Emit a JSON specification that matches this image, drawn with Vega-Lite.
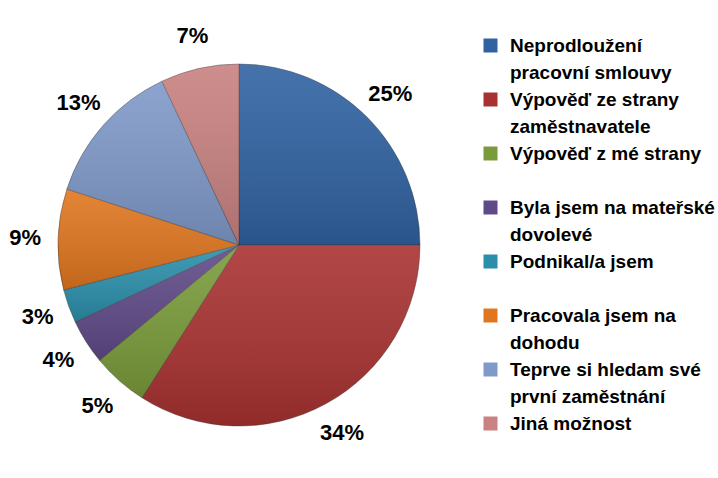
{
  "$schema": "https://vega.github.io/schema/vega-lite/v6.json",
  "width": 462,
  "height": 458,
  "padding": {"left": 8, "top": 16, "right": 0, "bottom": 0},
  "background": "white",
  "config": {
    "view": {"stroke": null},
    "font": "Liberation Sans",
    "style": {"guide-label": {"lineHeight": 27}}
  },
  "data": {
    "values": [
      {"category": "Neprodloužení|pracovní smlouvy", "value": 25, "label": "25%", "order": 1},
      {"category": "Výpověď ze strany|zaměstnavatele", "value": 34, "label": "34%", "order": 2},
      {"category": "Výpověď z mé strany| ", "value": 5, "label": "5%", "order": 3},
      {"category": "Byla jsem na mateřské|dovolevé", "value": 4, "label": "4%", "order": 4},
      {"category": "Podnikal/a jsem| ", "value": 3, "label": "3%", "order": 5},
      {"category": "Pracovala jsem na|dohodu", "value": 9, "label": "9%", "order": 6},
      {"category": "Teprve si hledam své|první zaměstnání", "value": 13, "label": "13%", "order": 7},
      {"category": "Jiná možnost| ", "value": 7, "label": "7%", "order": 8}
    ]
  },
  "encoding": {
    "theta": {"field": "value", "type": "quantitative", "stack": true},
    "order": {"field": "order", "type": "quantitative"}
  },
  "layer": [
    {
      "mark": {"type": "arc", "outerRadius": 181, "stroke": "#333333", "strokeWidth": 0.4},
      "encoding": {
        "color": {
          "field": "category",
          "type": "nominal",
          "sort": null,
          "scale": {
            "domain": [
              "Neprodloužení|pracovní smlouvy",
              "Výpověď ze strany|zaměstnavatele",
              "Výpověď z mé strany| ",
              "Byla jsem na mateřské|dovolevé",
              "Podnikal/a jsem| ",
              "Pracovala jsem na|dohodu",
              "Teprve si hledam své|první zaměstnání",
              "Jiná možnost| "
            ],
            "range": ["#3062a2", "#a83231", "#7a9b3a", "#5f4a88", "#2b8fab", "#e0761f", "#7f99c9", "#c98181"]
          },
          "legend": {
            "title": null,
            "orient": "none",
            "legendX": 473,
            "legendY": 20,
            "padding": 0,
            "symbolType": "square",
            "symbolSize": 196,
            "symbolStrokeWidth": 0,
            "symbolOpacity": 1,
            "labelExpr": "split(datum.label, '|')",
            "labelFont": "Liberation Sans",
            "labelFontSize": 19,
            "labelFontWeight": "bold",
            "labelColor": "#000000",
            "labelLimit": 260,
            "labelOffset": 10,
            "labelBaseline": "middle",
            "rowPadding": 7
          }
        }
      }
    },
    {
      "mark": {
        "type": "arc",
        "outerRadius": 181,
        "strokeWidth": 0,
        "color": {
          "gradient": "linear",
          "x1": 0, "y1": 0, "x2": 0, "y2": 1,
          "stops": [
            {"offset": 0, "color": "rgba(255,255,255,0.10)"},
            {"offset": 1, "color": "rgba(0,0,0,0.14)"}
          ]
        }
      },
      "encoding": {"detail": {"field": "category", "type": "nominal"}}
    },
    {
      "mark": {"type": "text", "radius": 214, "fontSize": 22, "fontWeight": "bold", "font": "Liberation Sans", "color": "#000000"},
      "encoding": {
        "text": {"field": "label", "type": "nominal"},
        "detail": {"field": "category", "type": "nominal"}
      }
    }
  ]
}
